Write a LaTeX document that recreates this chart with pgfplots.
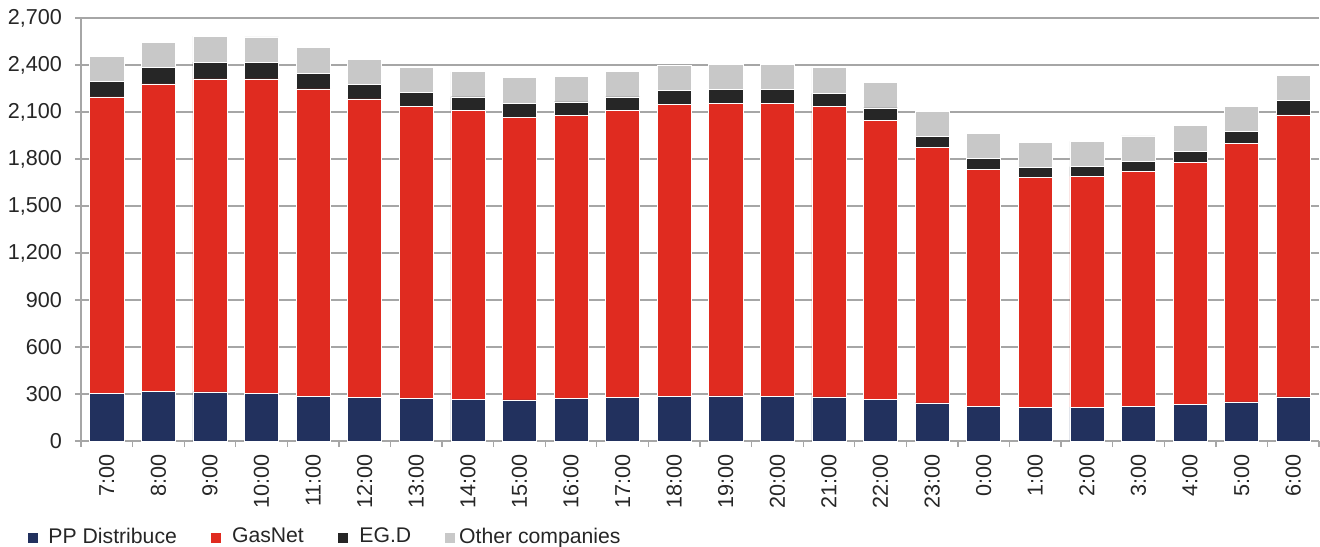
\documentclass[border=0pt]{standalone}
\usepackage{fontspec}
\setmainfont{Liberation Sans}
\usepackage{pgfplots}
\pgfplotsset{compat=1.18}
\usepackage{pgfplotstable}

\definecolor{ppblue}{HTML}{22315E}
\definecolor{gasred}{HTML}{E02B20}
\definecolor{egdblack}{HTML}{262626}
\definecolor{othergrey}{HTML}{C8C8C8}
\definecolor{axisgrey}{HTML}{A6A6A6}
\definecolor{textgrey}{HTML}{262626}

\pgfplotstableread{
x  pp   gas  egd other
0  304  1892 100 161
1  315  1964 106 160
2  313  1998 108 166
3  306  2005 104 164
4  287  1960 100 164
5  277  1906  91 164
6  270  1868  88 161
7  266  1843  87 161
8  262  1806  89 162
9  270  1807  87 164
10 277  1834  85 164
11 287  1862  87 164
12 288  1869  86 163
13 287  1866  90 163
14 281  1853  85 164
15 264  1781  81 163
16 243  1629  70 164
17 220  1514  68 160
18 213  1472  60 159
19 217  1472  62 162
20 220  1499  64 164
21 232  1547  70 166
22 249  1649  76 162
23 281  1800  91 164
}\data

\pgfplotsset{
  sqlegend/.style={legend image code/.code={\fill[##1] (0pt,-3.1pt) rectangle (5.25pt,2.15pt);}}
}

\begin{document}
\begin{tikzpicture}[font=\fontsize{10.8}{13}\selectfont, text=textgrey]
\begin{axis}[
  at={(0pt,0pt)}, anchor=south west,
  scale only axis, width=619pt, height=211.5pt,
  ybar stacked, bar width=0.66,
  xmin=-0.5, xmax=23.5, ymin=0, ymax=2700,
  enlargelimits=false,
  ytick={0,300,...,2700},
  xtick={0,...,23},
  xticklabels={7:00,8:00,9:00,10:00,11:00,12:00,13:00,14:00,15:00,16:00,17:00,18:00,19:00,20:00,21:00,22:00,23:00,0:00,1:00,2:00,3:00,4:00,5:00,6:00},
  minor xtick={-0.5,0.5,...,23.5},
  axis lines*=left,
  axis line style={axisgrey, line width=0.65pt},
  ymajorgrids, grid style={axisgrey, line width=0.65pt},
  tick align=outside,
  major tick length=3pt, minor tick length=3pt,
  tick style={axisgrey, line width=0.65pt},
  major x tick style={draw=none},
  /pgf/number format/.cd, 1000 sep={,}, assume math mode=true,
  /pgfplots/.cd,
  yticklabel style={xshift=-3pt},
  xticklabel style={rotate=90, anchor=east},
  legend columns=4,
  legend style={draw=none, fill=none, inner sep=0pt, at={(-27pt,-48pt)}, anchor=west,
    /tikz/every even column/.append style={column sep=16.6pt},
    nodes={inner sep=0pt, text=textgrey}},
  sqlegend,
  legend cell align=left,
  every axis legend/.append style={font=\fontsize{10.6}{13}\selectfont},
]
\addplot+[fill=ppblue, draw=white, line width=0.3pt] table[x=x,y=pp]{\data};
\addplot+[fill=gasred, draw=white, line width=0.3pt] table[x=x,y=gas]{\data};
\addplot+[fill=egdblack, draw=white, line width=0.3pt] table[x=x,y=egd]{\data};
\addplot+[fill=othergrey, draw=white, line width=0.3pt] table[x=x,y=other]{\data};
\legend{\hspace{5pt}PP Distribuce,\hspace{5.4pt}GasNet,\hspace{5.6pt}EG.D,\hspace{1.8pt}Other companies}
\end{axis}
\pgfresetboundingbox
\path[use as bounding box] (-40.5pt,-52.5pt) rectangle (619.5pt,220.5pt);
\end{tikzpicture}
\end{document}
